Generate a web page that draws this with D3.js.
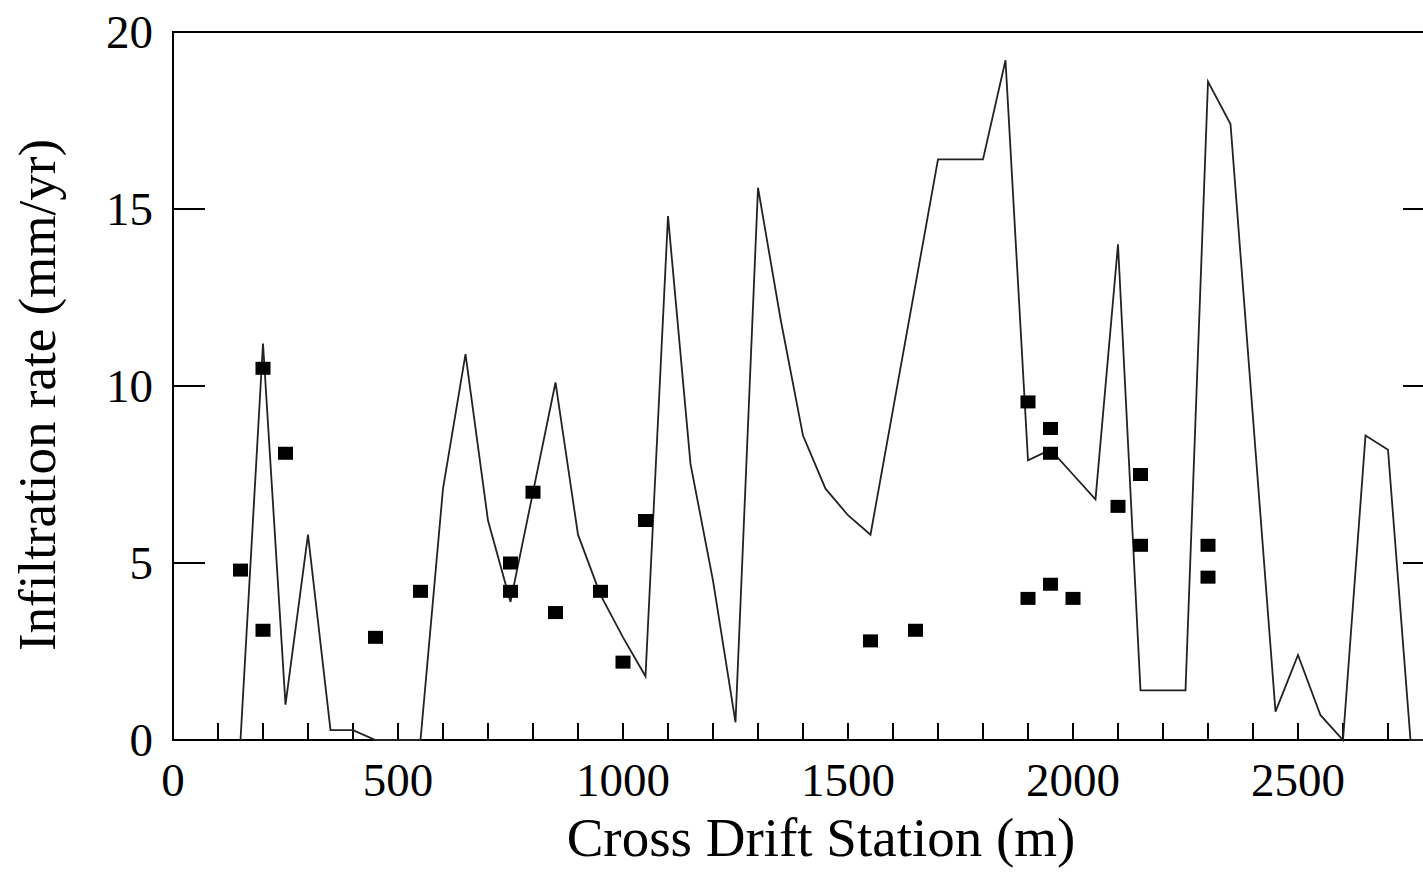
<!DOCTYPE html>
<html lang="en">
<head>
<meta charset="utf-8">
<script src="https://d3js.org/d3.v7.min.js"></script>
<style>

body {
  margin: 0;
  background: #fff;
  font-family: "Liberation Serif", "DejaVu Serif", serif;
}

.frame {
  fill: none;
  stroke: #000;
  stroke-width: 2;
}

.tick-mark {
  stroke: #000;
  stroke-width: 2;
}

.tick-label {
  font-size: 47px;
  fill: #000;
}

.title {
  font-size: 57px;
  fill: #000;
}

</style>
</head>
<body>
<div id="chart"></div>
<script>

// modelled infiltration along the cross drift (line)
var stationX = [150, 200, 250, 300, 350, 400, 450, 550, 600, 650, 700, 750, 850, 900, 950, 1000,
                1050, 1100, 1150, 1200, 1250, 1300, 1350, 1400, 1450, 1500, 1550, 1700, 1800, 1850,
                1900, 1950, 2000, 2050, 2100, 2150, 2250, 2300, 2350, 2450, 2500, 2550, 2600, 2650,
                2700, 2750, 2800];
var rateY = [0, 11.2, 1.0, 5.8, 0.28, 0.28, 0, 0, 7.1, 10.9, 6.2, 3.9, 10.1, 5.8, 4.1, 2.9,
             1.8, 14.8, 7.8, 4.5, 0.5, 15.6, 11.9, 8.6, 7.1, 6.35, 5.8, 16.4, 16.4, 19.2,
             7.9, 8.2, 7.5, 6.8, 14.0, 1.4, 1.4, 18.6, 17.4, 0.8, 2.4, 0.7, 0, 8.6,
             8.2, 0, 0];

// estimated rates from samples (squares)
var obsX = [150, 200, 200, 250, 450, 550, 750, 750, 800, 850, 950, 1000, 1050,
            1550, 1650, 1900, 1900, 1950, 1950, 1950, 2000, 2100, 2150, 2150, 2300, 2300];
var obsY = [4.8, 10.5, 3.1, 8.1, 2.9, 4.2, 5.0, 4.2, 7.0, 3.6, 4.2, 2.2, 6.2,
            2.8, 3.1, 9.55, 4.0, 8.8, 8.1, 4.4, 4.0, 6.6, 7.5, 5.5, 5.5, 4.6];

var xTicks = [0, 500, 1000, 1500, 2000, 2500];
var yTicks = [0, 5, 10, 15, 20];

var margin = {top: 32, left: 173},
    width = 1260,
    height = 708;

var x = d3.scaleLinear().domain([0, 2800]).range([0, width]);
var y = d3.scaleLinear().domain([0, 20]).range([height, 0]);

var svg = d3.select("#chart").append("svg")
    .attr("width", 1423)
    .attr("height", 872)
  .append("g")
    .attr("transform", "translate(" + margin.left + "," + margin.top + ")");

// minor ticks every 100 m along the bottom, pointing inward
svg.selectAll(".xtick")
    .data(d3.range(100, 2800, 100))
  .enter().append("line")
    .attr("class", "tick-mark")
    .attr("x1", function(d) { return x(d); })
    .attr("x2", function(d) { return x(d); })
    .attr("y1", height)
    .attr("y2", height - 17);

// y ticks on both sides, inward
svg.selectAll(".ytickl")
    .data(yTicks.slice(1, 4))
  .enter().append("line")
    .attr("class", "tick-mark")
    .attr("x1", 0)
    .attr("x2", 32)
    .attr("y1", function(d) { return y(d); })
    .attr("y2", function(d) { return y(d); });

svg.selectAll(".ytickr")
    .data(yTicks.slice(1, 4))
  .enter().append("line")
    .attr("class", "tick-mark")
    .attr("x1", width)
    .attr("x2", width - 30)
    .attr("y1", function(d) { return y(d); })
    .attr("y2", function(d) { return y(d); });

svg.append("rect")
    .attr("class", "frame")
    .attr("x", 0)
    .attr("y", 0)
    .attr("width", width)
    .attr("height", height);

// tick labels
svg.selectAll(".xlabel")
    .data(xTicks)
  .enter().append("text")
    .attr("class", "tick-label")
    .attr("x", function(d) { return x(d); })
    .attr("y", height + 56)
    .style("text-anchor", "middle")
    .text(String);

svg.selectAll(".ylabel")
    .data(yTicks)
  .enter().append("text")
    .attr("class", "tick-label")
    .attr("x", -20)
    .attr("y", function(d) { return y(d); })
    .attr("dy", "0.34em")
    .style("text-anchor", "end")
    .text(String);

// the model line
var line = d3.line()
    .x(function(d) { return x(d[0]); })
    .y(function(d) { return y(d[1]); });

svg.append("path")
    .datum(d3.zip(stationX, rateY))
    .attr("d", line)
    .style("fill", "none")
    .style("stroke", "#222")
    .style("stroke-width", 1.8);

// sample squares
svg.selectAll(".obs")
    .data(d3.zip(obsX, obsY))
  .enter().append("rect")
    .attr("class", "obs")
    .attr("x", function(d) { return x(d[0]) - 7.5; })
    .attr("y", function(d) { return y(d[1]) - 6.5; })
    .attr("width", 15)
    .attr("height", 13)
    .style("fill", "#000");

// axis titles
svg.append("text")
    .attr("class", "title")
    .attr("x", 648)
    .attr("y", height + 116)
    .style("text-anchor", "middle")
    .style("font-size", "55px")
    .text("Cross Drift Station (m)");

svg.append("text")
    .attr("class", "title")
    .attr("transform", "translate(" + (55 - margin.left) + "," + (395 - margin.top) + ") rotate(-90)")
    .style("text-anchor", "middle")
    .style("font-size", "53px")
    .text("Infiltration rate (mm/yr)");

</script>
</body>
</html>
